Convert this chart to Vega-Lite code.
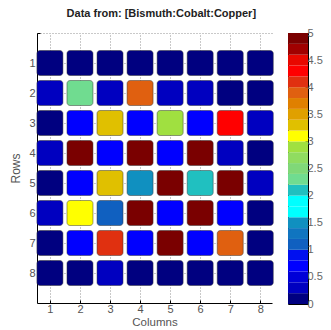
{
  "$schema": "https://vega.github.io/schema/vega-lite/v6.json",
  "background": "white",
  "padding": {"left": 9, "top": 7, "right": 0, "bottom": 0},
  "config": {"font": "Liberation Sans"},
  "title": {"text": "Data from: [Bismuth:Cobalt:Copper]", "font": "Liberation Sans", "fontSize": 11, "fontWeight": "bold", "color": "#222", "anchor": "middle", "offset": 8, "dx": -5},
  "bounds": "flush",
  "spacing": 16,
  "hconcat": [
    {
      "width": 235,
      "height": 270,
      "view": {"stroke": null},
      "data": {"values": [
        {"row": 1, "col": 1, "v": 0.1}, {"row": 1, "col": 2, "v": 0.1}, {"row": 1, "col": 3, "v": 0.1}, {"row": 1, "col": 4, "v": 0.1}, {"row": 1, "col": 5, "v": 0.1}, {"row": 1, "col": 6, "v": 0.1}, {"row": 1, "col": 7, "v": 0.1}, {"row": 1, "col": 8, "v": 0.1},
        {"row": 2, "col": 1, "v": 0.3}, {"row": 2, "col": 2, "v": 2.3}, {"row": 2, "col": 3, "v": 0.3}, {"row": 2, "col": 4, "v": 3.9}, {"row": 2, "col": 5, "v": 0.3}, {"row": 2, "col": 6, "v": 0.3}, {"row": 2, "col": 7, "v": 0.1}, {"row": 2, "col": 8, "v": 0.1},
        {"row": 3, "col": 1, "v": 0.1}, {"row": 3, "col": 2, "v": 0.7}, {"row": 3, "col": 3, "v": 3.3}, {"row": 3, "col": 4, "v": 0.7}, {"row": 3, "col": 5, "v": 2.9}, {"row": 3, "col": 6, "v": 0.7}, {"row": 3, "col": 7, "v": 4.3}, {"row": 3, "col": 8, "v": 0.3},
        {"row": 4, "col": 1, "v": 0.3}, {"row": 4, "col": 2, "v": 4.9}, {"row": 4, "col": 3, "v": 0.7}, {"row": 4, "col": 4, "v": 4.9}, {"row": 4, "col": 5, "v": 0.7}, {"row": 4, "col": 6, "v": 4.9}, {"row": 4, "col": 7, "v": 0.3}, {"row": 4, "col": 8, "v": 0.1},
        {"row": 5, "col": 1, "v": 0.1}, {"row": 5, "col": 2, "v": 0.7}, {"row": 5, "col": 3, "v": 3.3}, {"row": 5, "col": 4, "v": 1.5}, {"row": 5, "col": 5, "v": 4.9}, {"row": 5, "col": 6, "v": 2.1}, {"row": 5, "col": 7, "v": 4.9}, {"row": 5, "col": 8, "v": 0.3},
        {"row": 6, "col": 1, "v": 0.3}, {"row": 6, "col": 2, "v": 3.1}, {"row": 6, "col": 3, "v": 1.1}, {"row": 6, "col": 4, "v": 4.9}, {"row": 6, "col": 5, "v": 0.7}, {"row": 6, "col": 6, "v": 4.9}, {"row": 6, "col": 7, "v": 0.7}, {"row": 6, "col": 8, "v": 0.1},
        {"row": 7, "col": 1, "v": 0.1}, {"row": 7, "col": 2, "v": 0.7}, {"row": 7, "col": 3, "v": 4.1}, {"row": 7, "col": 4, "v": 0.7}, {"row": 7, "col": 5, "v": 4.9}, {"row": 7, "col": 6, "v": 0.7}, {"row": 7, "col": 7, "v": 3.9}, {"row": 7, "col": 8, "v": 0.1},
        {"row": 8, "col": 1, "v": 0.1}, {"row": 8, "col": 2, "v": 0.1}, {"row": 8, "col": 3, "v": 0.3}, {"row": 8, "col": 4, "v": 0.1}, {"row": 8, "col": 5, "v": 0.1}, {"row": 8, "col": 6, "v": 0.1}, {"row": 8, "col": 7, "v": 0.1}, {"row": 8, "col": 8, "v": 0.1}
      ]},
      "mark": {"type": "rect", "width": 26, "height": 25, "cornerRadius": 3, "stroke": "#333", "strokeWidth": 0.8, "strokeOpacity": 0.6},
      "encoding": {
        "x": {"field": "col", "type": "quantitative",
          "scale": {"domain": [0.57, 8.39], "nice": false, "zero": false},
          "axis": {"values": [1, 2, 3, 4, 5, 6, 7, 8], "title": "Columns", "grid": true, "gridDash": [1, 2], "gridColor": "#777", "gridWidth": 0.8,
            "domainColor": "#000", "tickColor": "#000", "tickSize": -3, "labelColor": "#555", "labelFontSize": 11, "labelPadding": 3,
            "titleColor": "#555", "titleFontSize": 11.5, "titleFontWeight": "normal", "titlePadding": 2}},
        "y": {"field": "row", "type": "quantitative",
          "scale": {"domain": [0, 9], "reverse": true, "nice": false, "zero": false},
          "axis": {"values": [0, 1, 2, 3, 4, 5, 6, 7, 8], "labelExpr": "datum.value == 0 ? '' : datum.label", "title": "Rows", "grid": true, "gridDash": [1, 2], "gridColor": "#777", "gridWidth": 0.8,
            "domainColor": "#000", "tickColor": "#000", "tickSize": -3, "labelColor": "#555", "labelFontSize": 11, "labelPadding": 5,
            "titleColor": "#555", "titleFontSize": 12, "titleFontWeight": "normal", "titlePadding": 6}},
        "color": {"field": "v", "type": "quantitative", "legend": null,
          "scale": {"type": "threshold",
            "domain": [0.2, 0.4, 0.6, 0.8, 1.0, 1.2, 1.4, 1.6, 1.8, 2.0, 2.2, 2.4, 2.6, 2.8, 3.0, 3.2, 3.4, 3.6, 3.8, 4.0, 4.2, 4.4, 4.6, 4.8],
            "range": ["#000080", "#0000C0", "#0000D8", "#0000FF", "#0010F0", "#1060C0", "#1075C0", "#1090C0", "#00FFFF", "#00FFFF", "#20C0C0", "#70DC90", "#80D878", "#90DC60", "#A0E040", "#FFFF00", "#E0C000", "#E0A000", "#E08000", "#E06010", "#E03010", "#FF0000", "#E80800", "#A00000", "#7A0000"]}}
      }
    },
    {
      "width": 20,
      "height": 271,
      "view": {"stroke": "black", "strokeWidth": 1},
      "data": {"values": [
        {"lo": 0.0, "hi": 0.2}, {"lo": 0.2, "hi": 0.4}, {"lo": 0.4, "hi": 0.6}, {"lo": 0.6, "hi": 0.8}, {"lo": 0.8, "hi": 1.0},
        {"lo": 1.0, "hi": 1.2}, {"lo": 1.2, "hi": 1.4}, {"lo": 1.4, "hi": 1.6}, {"lo": 1.6, "hi": 1.8}, {"lo": 1.8, "hi": 2.0},
        {"lo": 2.0, "hi": 2.2}, {"lo": 2.2, "hi": 2.4}, {"lo": 2.4, "hi": 2.6}, {"lo": 2.6, "hi": 2.8}, {"lo": 2.8, "hi": 3.0},
        {"lo": 3.0, "hi": 3.2}, {"lo": 3.2, "hi": 3.4}, {"lo": 3.4, "hi": 3.6}, {"lo": 3.6, "hi": 3.8}, {"lo": 3.8, "hi": 4.0},
        {"lo": 4.0, "hi": 4.2}, {"lo": 4.2, "hi": 4.4}, {"lo": 4.4, "hi": 4.6}, {"lo": 4.6, "hi": 4.8}, {"lo": 4.8, "hi": 5.0}
      ]},
      "mark": {"type": "rect"},
      "encoding": {
        "y": {"field": "lo", "type": "quantitative",
          "scale": {"domain": [0, 5], "nice": false, "zero": false},
          "axis": {"orient": "right", "values": [0, 0.5, 1, 1.5, 2, 2.5, 3, 3.5, 4, 4.5, 5], "format": "~g", "title": null, "grid": false, "domain": false,
            "tickColor": "#000", "tickSize": -3, "labelColor": "#666", "labelFontSize": 11, "labelPadding": 2}},
        "y2": {"field": "hi"},
        "color": {"field": "lo", "type": "quantitative", "legend": null,
          "scale": {"type": "threshold",
            "domain": [0.2, 0.4, 0.6, 0.8, 1.0, 1.2, 1.4, 1.6, 1.8, 2.0, 2.2, 2.4, 2.6, 2.8, 3.0, 3.2, 3.4, 3.6, 3.8, 4.0, 4.2, 4.4, 4.6, 4.8],
            "range": ["#000080", "#0000C0", "#0000D8", "#0000FF", "#0010F0", "#1060C0", "#1075C0", "#1090C0", "#00FFFF", "#00FFFF", "#20C0C0", "#70DC90", "#80D878", "#90DC60", "#A0E040", "#FFFF00", "#E0C000", "#E0A000", "#E08000", "#E06010", "#E03010", "#FF0000", "#E80800", "#A00000", "#7A0000"]}}
      }
    }
  ],
  "resolve": {"scale": {"color": "independent", "y": "independent", "x": "independent"}}
}
